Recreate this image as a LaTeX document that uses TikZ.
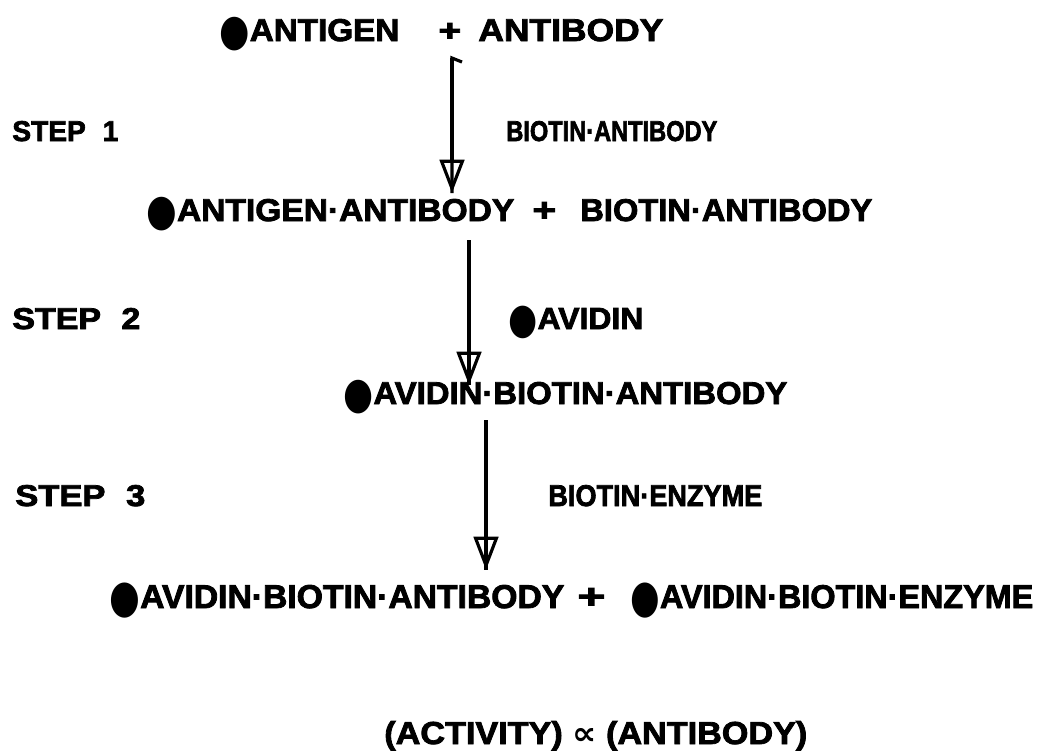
\documentclass[tikz,border=0pt]{standalone}
\usepackage{fontspec}
\setmainfont{Liberation Sans}[BoldFeatures={FakeBold=2.5}]
\newfontfamily\symf{DejaVu Sans}
\usetikzlibrary{arrows.meta}
\newcommand{\blob}{\smash{\raisebox{-0.14em}{\scalebox{1.05}[1.4]{\symf\char"25CF}}}}
\newcommand{\cdotb}{\textperiodcentered}
\newcommand{\fitt}[3]{\resizebox{#1}{#2}{\fontsize{20}{24}\selectfont\bfseries #3}}
\begin{document}
\begin{tikzpicture}[x=0.02cm,y=-0.02cm,
  txt/.style={inner sep=0pt, anchor=base west},
  shaft/.style={line width=1.8pt},
  openhead/.style={line width=1.8pt, -{Triangle[open, length=19pt, width=14pt, line width=1.8pt]}}]
\useasboundingbox (0,0) rectangle (1039,755);
% line 1
\node[txt] (ag) at (219,41) {\fitt{3.6cm}{0.44cm}{\blob ANTIGEN}};
\node[txt] (p1) at (438,41) {\fitt{0.46cm}{0.36cm}{+}};
\node[txt] (ab) at (478,41) {\fitt{3.7cm}{0.44cm}{ANTIBODY}};
% step 1
\node[txt] (s1) at (12,141) {\fitt{2.12cm}{0.4cm}{STEP\hspace{0.6em}1}};
\node[txt] (r1) at (506,141) {\fitt{4.22cm}{0.4cm}{BIOTIN\cdotb ANTIBODY}};
% line 2
\node[txt] (l2a) at (146,221) {\fitt{7.36cm}{0.44cm}{\blob ANTIGEN\cdotb ANTIBODY}};
\node[txt] (p2) at (532,221) {\fitt{0.48cm}{0.38cm}{+}};
\node[txt] (l2b) at (580,221) {\fitt{5.84cm}{0.44cm}{BIOTIN\cdotb ANTIBODY}};
% step 2
\node[txt] (s2) at (12,329) {\fitt{2.56cm}{0.42cm}{STEP\hspace{0.6em}2}};
\node[txt] (r2) at (508,329) {\fitt{2.7cm}{0.42cm}{\blob AVIDIN}};
% line 3
\node[txt] (l3) at (343,404) {\fitt{8.88cm}{0.44cm}{\blob AVIDIN\cdotb BIOTIN\cdotb ANTIBODY}};
% step 3
\node[txt] (s3) at (15,506) {\fitt{2.6cm}{0.42cm}{STEP\hspace{0.6em}3}};
\node[txt] (r3) at (548,506) {\fitt{4.28cm}{0.42cm}{BIOTIN\cdotb ENZYME}};
% line 4
\node[txt] (l4a) at (109,608) {\fitt{9.1cm}{0.46cm}{\blob AVIDIN\cdotb BIOTIN\cdotb ANTIBODY}};
\node[txt] (p4) at (577,608) {\fitt{0.56cm}{0.4cm}{+}};
\node[txt] (l4b) at (630,608) {\fitt{8.06cm}{0.46cm}{\blob AVIDIN\cdotb BIOTIN\cdotb ENZYME}};
% line 5
\node[txt] (l5) at (384,744) {\fitt{8.46cm}{0.46cm}{(ACTIVITY) {\symf\bfseries\char"221D} (ANTIBODY)}};
% arrows
\coordinate (a1s) at (452,58);
\coordinate (a1e) at (452,193);
\coordinate (a1f) at (462,62);
\coordinate (a2s) at (469,240);
\coordinate (a2e) at (469,385);
\coordinate (a3s) at (486,420);
\coordinate (a3e) at (486,570);
\draw[shaft] (a1f) -- (a1s) -- (a1e);
\draw[openhead] (a1s) -- (a1e);
\draw[shaft] (a2s) -- (a2e);
\draw[openhead] (a2s) -- (a2e);
\draw[shaft] (a3s) -- (a3e);
\draw[openhead] (a3s) -- (a3e);
\end{tikzpicture}
\end{document}
